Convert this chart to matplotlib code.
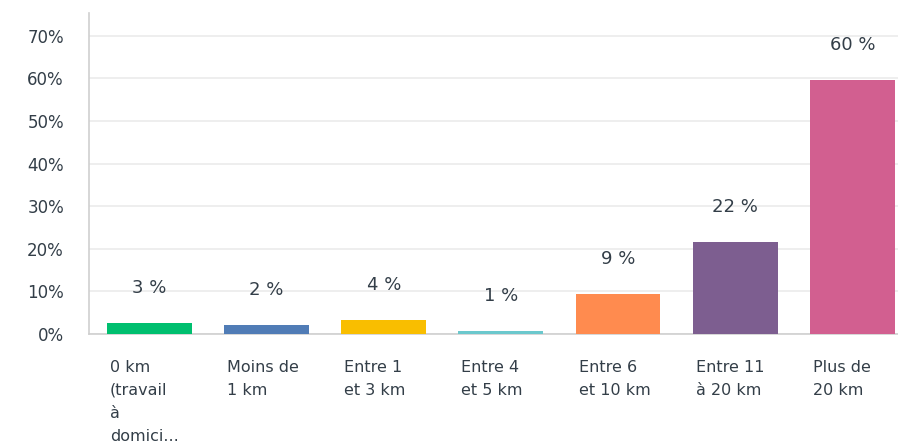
import numpy as np
import matplotlib.pyplot as plt
from matplotlib.ticker import MultipleLocator, FuncFormatter
from matplotlib.transforms import blended_transform_factory, offset_copy

categories = ["0 km\n(travail\nà\ndomici...", "Moins de\n1 km", "Entre 1\net 3 km",
              "Entre 4\net 5 km", "Entre 6\net 10 km", "Entre 11\nà 20 km", "Plus de\n20 km"]
values = [2.6, 2.1, 3.3, 0.6, 9.3, 21.6, 59.6]
labels = ["3 %", "2 %", "4 %", "1 %", "9 %", "22 %", "60 %"]
colors = ["#00BF6F", "#507CB6", "#F9BE00", "#6BC8CD", "#FF8B4F", "#7D5E90", "#D25F90"]

text_col = "#333E48"
bar_w = 0.725

fig = plt.figure(figsize=(8.98, 4.45), dpi=100)
ax = fig.add_axes([0.0991, 0.2494, 0.9009, 0.7214])

x = np.arange(len(categories))
ax.bar(x, values, width=bar_w, color=colors, zorder=3)

ax.set_xlim(-0.516, 6.39)
ax.set_ylim(0, 75.35)
ax.yaxis.set_major_locator(MultipleLocator(10))
ax.yaxis.set_major_formatter(FuncFormatter(lambda v, p: f"{v:.0f}%"))
ax.grid(axis='y', color='#EBEBEB', linewidth=1.2, zorder=0)
ax.set_xticks([])
ax.tick_params(axis='y', length=0, pad=18, labelsize=12, labelcolor=text_col)

for s in ['top', 'right']:
    ax.spines[s].set_visible(False)
for s in ['left', 'bottom']:
    ax.spines[s].set_color('#CFCFCF')
    ax.spines[s].set_linewidth(1.2)

# value labels above bars
for xi, v, lab in zip(x, values, labels):
    tr = offset_copy(ax.transData, fig=fig, x=0, y=35, units='dots')
    ax.text(xi, v, lab, transform=tr, ha='center', va='center',
            fontsize=13, color=text_col)

# category labels below axis, left aligned to bar edge
tb = blended_transform_factory(ax.transData, ax.transAxes)
for xi, cat in zip(x, categories):
    tr = offset_copy(tb, fig=fig, x=3, y=-26, units='dots')
    ax.text(xi - bar_w / 2, 0, cat, transform=tr, ha='left', va='top',
            fontsize=11.5, color=text_col, linespacing=1.66)

fig.savefig("out.png", dpi=100)
